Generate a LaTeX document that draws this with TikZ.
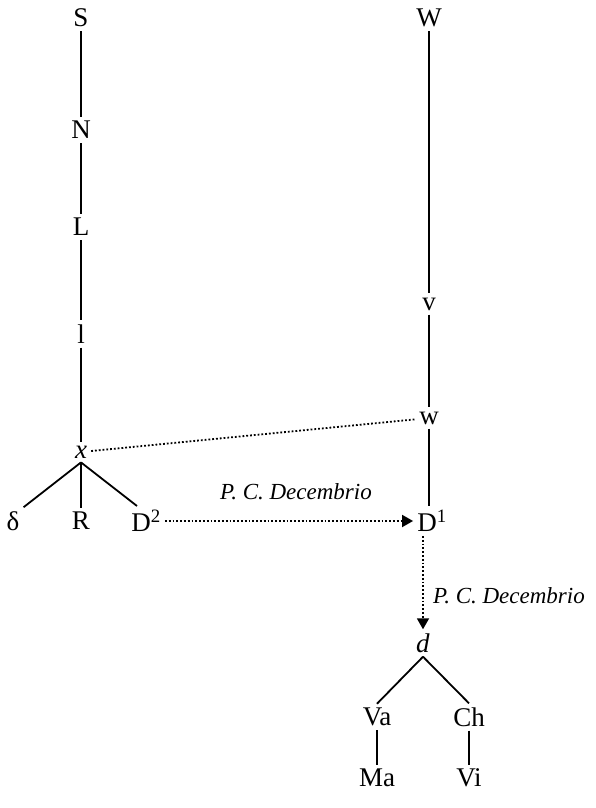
\documentclass[tikz,border=0pt]{standalone}
\usepackage{fontspec}
\setmainfont{Liberation Serif}
\usepackage{tikz}
\usetikzlibrary{arrows.meta,positioning}

\begin{document}
\begin{tikzpicture}[
    x=1pt, y=-1pt,
    sigla/.style={font=\fontsize{27}{30}\selectfont, inner sep=4pt},
    note/.style={font=\fontsize{23}{27}\selectfont\itshape, inner sep=0pt},
    branch/.style={line width=1.8pt},
    contam/.style={line width=1.8pt, dotted},
    copied/.style={line width=1.8pt, dotted, -{Triangle[width=12pt,length=11pt]}}
]
    \useasboundingbox (0,0) rectangle (595,808);

    % Left branch
    \node[sigla] (S) at (81,18) {S};
    \node[sigla] (N) at (81,130) {N};
    \node[sigla] (L) at (81,227) {L};
    \node[sigla] (l) at (81,334) {l};
    \node[sigla] (x) at (81,452) {\textit{x}};
    \node[sigla] (delta) at (13,521) {δ};
    \node[sigla] (R) at (81,521) {R};
    \node[sigla] (D2) at (146,521) {D\textsuperscript{2}};

    % Right branch
    \node[sigla] (W) at (429,18) {W};
    \node[sigla] (v) at (429,304) {v};
    \node[sigla] (w) at (429,418) {w};
    \node[sigla] (D1) at (432,521) {D\textsuperscript{1}};
    \node[sigla] (d) at (423,643) {\textit{d}};
    \node[sigla] (Va) at (377,717) {Va};
    \node[sigla] (Ch) at (469,717) {Ch};
    \node[sigla] (Ma) at (377,778) {Ma};
    \node[sigla] (Vi) at (469,778) {Vi};

    % Lines
    \draw[branch] (S) -- (N);
    \draw[branch] (N) -- (L);
    \draw[branch] (L) -- (l);
    \draw[branch] (l) -- (x);
    \draw[branch] (x.south) -- (delta.north east);
    \draw[branch] (x.south) -- (R);
    \draw[branch] (x.south) -- ([xshift=-9pt]D2.north);
    \draw[branch] (W) -- (v);
    \draw[branch] (v) -- (w);
    \draw[branch] (w) -- ([xshift=-3pt]D1.north);
    \draw[branch] (d.south) -- (Va.north);
    \draw[branch] (d.south) -- (Ch.north);
    \draw[branch] (Va) -- (Ma);
    \draw[branch] (Ch) -- (Vi);

    % Contamination
    \draw[contam] (x) -- (w);
    \draw[copied] (D2) -- (D1);
    \draw[copied] ([xshift=-9pt]D1.south) -- (d);
    \node[note] (pc1) at (296,492) {P. C. Decembrio};
    \node[note, anchor=west] (pc2) at (433,596) {P. C. Decembrio};
\end{tikzpicture}
\end{document}
